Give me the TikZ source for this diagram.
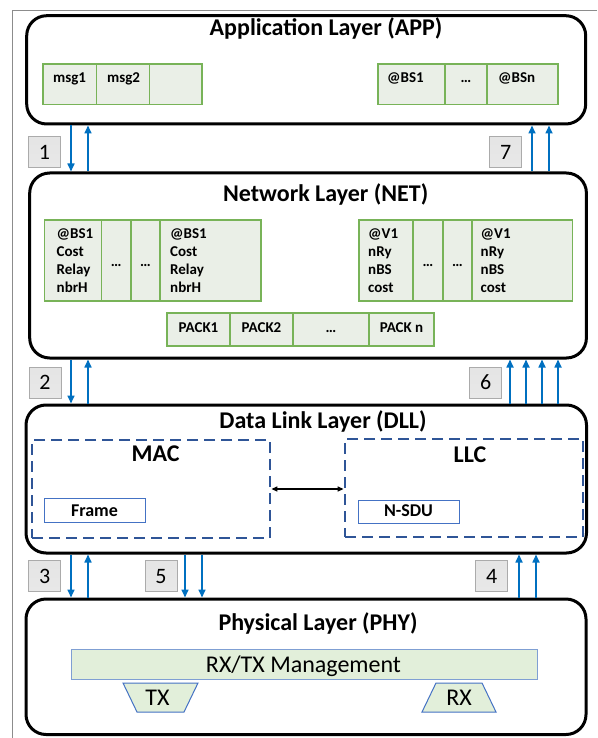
\documentclass[tikz,border=0pt]{standalone}
\usepackage{fontspec}
\setmainfont{Carlito}
\usetikzlibrary{arrows.meta}
\definecolor{arrowblue}{HTML}{0070C0}
\definecolor{cellgreen}{HTML}{78B358}
\definecolor{cellfill}{HTML}{EAEFE7}
\definecolor{numfill}{HTML}{D3D3D3}
\definecolor{numdraw}{HTML}{ABABAB}
\definecolor{dashblue}{HTML}{2F5597}
\definecolor{subblue}{HTML}{4472C4}
\definecolor{mgmtfill}{HTML}{E2EFDA}
\definecolor{mgmtdraw}{HTML}{7F9FD3}
\definecolor{framegray}{HTML}{8C8C8C}
\newcommand\rnode[7]{\node[#1, minimum width={(#5-#3)*1pt}, minimum height={(#6-#4)*1pt}] (#2) at ({(#3+#5)/2},{(#4+#6)/2}) {#7};}
\tikzset{
  layer/.style={draw=black, fill=white, line width=3pt, rounded corners=20pt, rectangle, inner sep=0pt},
  cell/.style={draw=cellgreen, fill=cellfill, line width=1.5pt, rectangle, inner sep=0pt},
  ttl/.style={anchor=base, inner sep=0pt, font=\fontsize{24}{28}\selectfont\bfseries},
  ctext/.style={anchor=base west, inner sep=0pt, font=\fontsize{15}{18}\selectfont\bfseries},
  cmid/.style={anchor=base, inner sep=0pt, font=\fontsize{15}{18}\selectfont\bfseries},
  subt/.style={anchor=base, inner sep=0pt, font=\fontsize{18}{21}\selectfont\bfseries},
  ptext/.style={anchor=base, inner sep=0pt, font=\fontsize{24}{28}\selectfont},
  numbox/.style={draw=numdraw, top color=numfill!60, bottom color=numfill!110!black, line width=1pt, rectangle, minimum width=32pt, minimum height=31pt, inner sep=0pt, font=\fontsize{22}{26}\selectfont},
  flow/.style={draw=arrowblue, line width=1.6pt, -{Triangle[length=8pt,width=7pt]}},
  dashbox/.style={draw=dashblue, line width=2.8pt, dash pattern=on 11pt off 6pt, rectangle, inner sep=0pt},
  subbox/.style={draw=subblue, line width=1pt, fill=white, rectangle, inner sep=0pt},
  mgmt/.style={draw=mgmtdraw, line width=1pt, fill=mgmtfill, rectangle, inner sep=0pt},
  trap/.style={draw=subblue, line width=1pt, fill=mgmtfill},
  twoway/.style={draw=black, line width=1.3pt, {Triangle[length=6pt,width=5pt]}-{Triangle[length=6pt,width=5pt]}}
}
\begin{document}
\begin{tikzpicture}[x=1pt,y=-1pt]
\useasboundingbox (0,0) rectangle (597,738);
\draw[framegray, line width=1.5pt] (12.5,738) -- (12.5,10.5) -- (597,10.5);

% layers
\rnode{layer}{app}{26.7}{15.7}{585.7}{124}{}
\rnode{layer}{net}{29.7}{173}{586.4}{358}{}
\rnode{layer}{dll}{26}{405}{586.5}{553}{}
\rnode{layer}{phy}{26}{599}{586}{734.5}{}

\node[ttl] (appt) at (326,36) {Application Layer (APP)};
\node[ttl] (nett) at (325.7,201.5) {Network Layer (NET)};
\node[ttl] (dllt) at (323,428) {Data Link Layer (DLL)};
\node[ttl] (phyt) at (318,630) {Physical Layer (PHY)};

% APP cells
\rnode{cell}{m1}{43}{64}{96.5}{104.5}{}
\rnode{cell}{m2}{96.5}{64}{149.6}{104.5}{}
\rnode{cell}{m3}{149.6}{64}{202}{104.5}{}
\rnode{cell}{b1}{378}{64}{445}{104.5}{}
\rnode{cell}{b2}{445}{64}{487}{104.5}{}
\rnode{cell}{b3}{487}{64}{558}{104.5}{}
\node[ctext] (m1t) at (53,83) {msg1};
\node[ctext] (m2t) at (107,83) {msg2};
\node[ctext] (b1t) at (387,83) {@BS1};
\node[cmid] (b2t) at (466,83) {…};
\node[ctext] (b3t) at (498,83) {@BSn};

% NET tables
\rnode{cell}{l1}{44.5}{220}{101.5}{301}{}
\rnode{cell}{l2}{101.5}{220}{131}{301}{}
\rnode{cell}{l3}{131}{220}{160}{301}{}
\rnode{cell}{l4}{160}{220}{261}{301}{}
\rnode{cell}{r1}{359}{220}{413}{301}{}
\rnode{cell}{r2}{413}{220}{443}{301}{}
\rnode{cell}{r3}{443}{220}{472}{301}{}
\rnode{cell}{r4}{472}{220}{572.5}{301}{}
\foreach \t [count=\i] in {@BS1,Cost,Relay,nbrH}{
  \node[ctext] (la\i) at (56.5,{238.5+(\i-1)*18.07}) {\t};
  \node[ctext] (lb\i) at (170,{238.5+(\i-1)*18.07}) {\t};
}
\foreach \t [count=\i] in {@V1,nRy,nBS,cost}{
  \node[ctext] (ra\i) at (368,{238.5+(\i-1)*18.07}) {\t};
  \node[ctext] (rb\i) at (480.5,{238.5+(\i-1)*18.07}) {\t};
}
\node[cmid] (l2t) at (116.25,266) {…};
\node[cmid] (l3t) at (145.5,266) {…};
\node[cmid] (r2t) at (428,266) {…};
\node[cmid] (r3t) at (457.5,266) {…};

\rnode{cell}{p1}{167}{313}{230}{346}{}
\rnode{cell}{p2}{230}{313}{293}{346}{}
\rnode{cell}{p3}{293}{313}{369}{346}{}
\rnode{cell}{p4}{369}{313}{434}{346}{}
\node[cmid] (p1t) at (198.5,332.5) {PACK1};
\node[cmid] (p2t) at (261.5,332.5) {PACK2};
\node[cmid] (p3t) at (331,332.5) {…};
\node[cmid] (p4t) at (401.5,332.5) {PACK n};

% DLL content
\rnode{dashbox}{mac}{32}{440}{270}{538}{}
\rnode{dashbox}{llc}{345}{439}{583}{537}{}
\node[ttl] (mact) at (155.6,461.5) {MAC};
\node[ttl] (llct) at (470,462) {LLC};
\draw[twoway] (mac.east) -- (mac.east -| llc.west);
\rnode{subbox}{frm}{44}{498.3}{145}{522.7}{}
\rnode{subbox}{nsdu}{358}{500}{459}{523}{}
\node[subt] (frmt) at (94.5,516) {Frame};
\node[subt] (nsdut) at (408.5,516.5) {N-SDU};

% PHY content
\rnode{mgmt}{rxtx}{71}{649}{537}{679}{}
\node[ptext] (rxtxt) at (303.5,672) {RX/TX Management};
\draw[trap] (123,683) -- (198,683) -- (184,712) -- (137,712) -- cycle;
\draw[trap] (436,683) -- (482,683) -- (496,712) -- (422,712) -- cycle;
\node[ptext] (txt) at (157.5,705.5) {TX};
\node[ptext] (rxt) at (459,705.5) {RX};

% number boxes
\node[numbox] (n1) at (44.5,152.5) {1};
\node[numbox] (n7) at (505.75,152.5) {7};
\node[numbox] (n2) at (45,382.5) {2};
\node[numbox] (n6) at (485.75,382.5) {6};
\node[numbox] (n3) at (44.75,576.25) {3};
\node[numbox] (n5) at (161,576.25) {5};
\node[numbox] (n4) at (491.8,576.25) {4};

% column coordinates
\foreach \x/\n in {71/a,88/b,532/c,549/d,510/e,526/f,542/g,558/h,185/i,202/j,519/k,536/l}
  \coordinate (c\n) at (\x,0);

% APP <-> NET
\draw[flow] (app.south -| ca) -- (net.north -| ca);
\draw[flow] (net.north -| cb) -- (app.south -| cb);
\draw[flow] (net.north -| cc) -- (app.south -| cc);
\draw[flow] (net.north -| cd) -- (app.south -| cd);
% NET <-> DLL
\draw[flow] (net.south -| ca) -- (dll.north -| ca);
\draw[flow] (dll.north -| cb) -- (net.south -| cb);
\foreach \n in {e,f,g,h}
  \draw[flow] (dll.north -| c\n) -- (net.south -| c\n);
% DLL <-> PHY
\draw[flow] (dll.south -| ca) -- (phy.north -| ca);
\draw[flow] (phy.north -| cb) -- (dll.south -| cb);
\draw[flow] (dll.south -| ci) -- (phy.north -| ci);
\draw[flow] (dll.south -| cj) -- (phy.north -| cj);
\draw[flow] (phy.north -| ck) -- (dll.south -| ck);
\draw[flow] (phy.north -| cl) -- (dll.south -| cl);
\end{tikzpicture}
\end{document}
